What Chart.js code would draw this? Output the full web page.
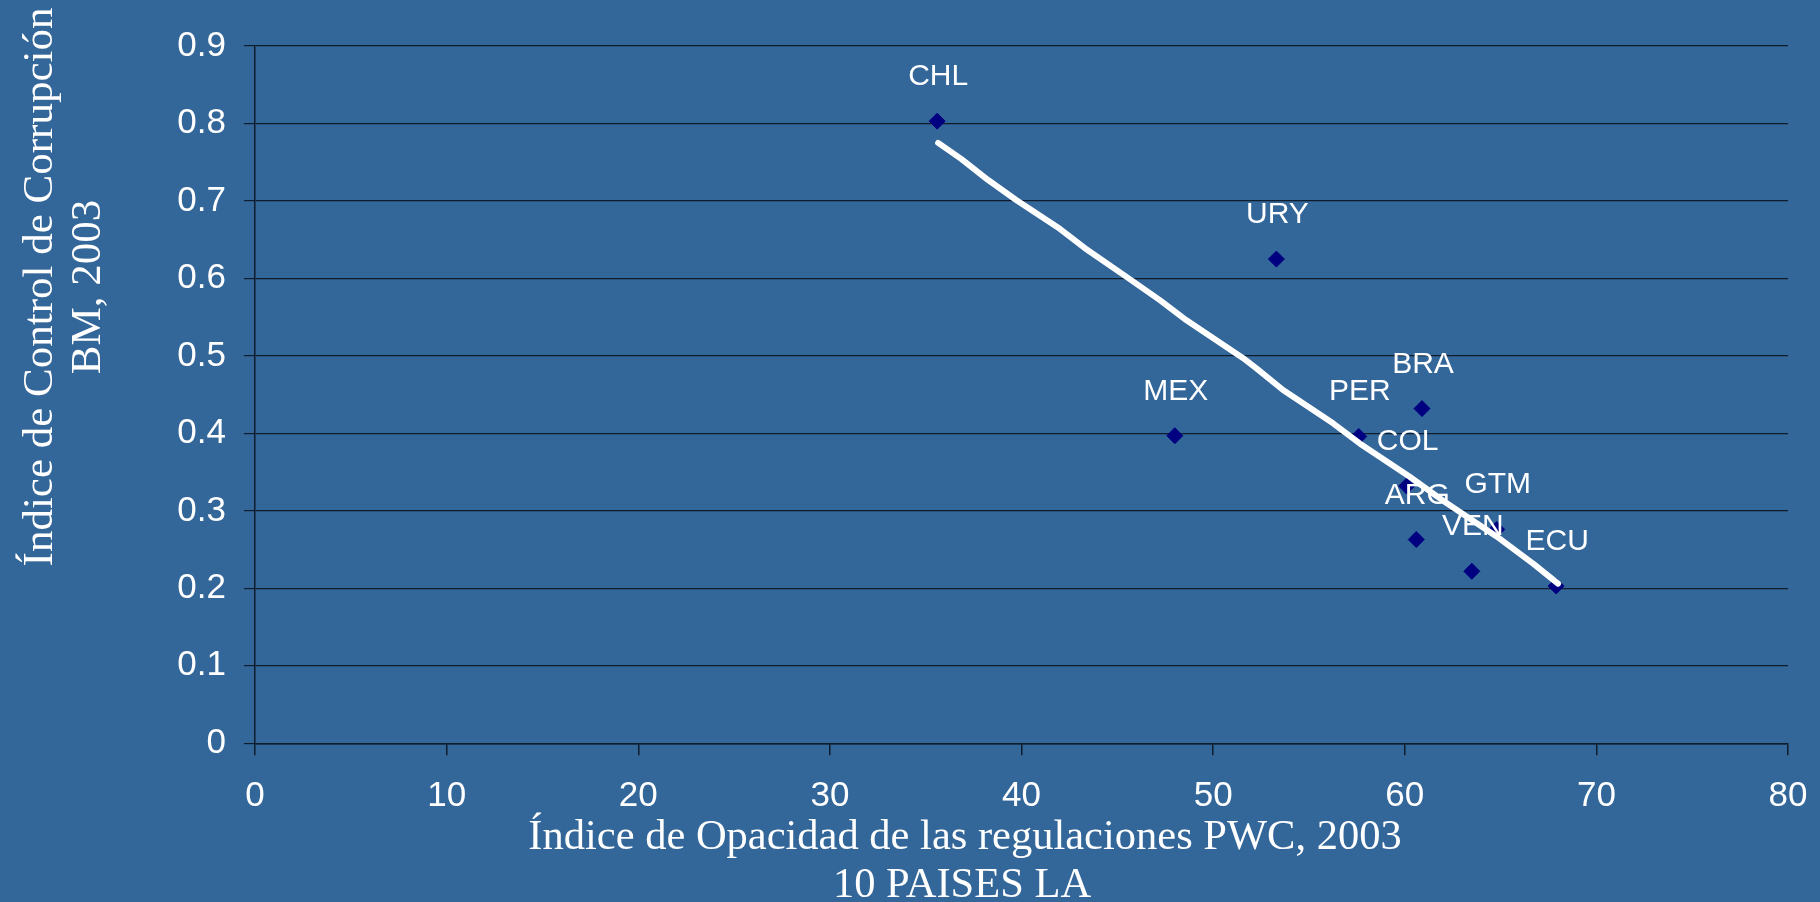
<!DOCTYPE html>
<html lang="es">
<head>
<meta charset="utf-8">
<title>Opacidad vs Control de Corrupción</title>
<script src="https://cdn.jsdelivr.net/npm/chart.js@4.4.1/dist/chart.umd.min.js"></script>
<style>
    html, body { margin: 0; padding: 0; background: #336699; overflow: hidden; }
    #wrap { width: 1820px; height: 902px; position: relative; }
    #wrap canvas { display: block; }
</style>
</head>
<body>
<div id="wrap"><canvas id="chart-opacidad"></canvas></div>
<script>
// Países y valores de cada índice
const paises = ['CHL', 'URY', 'MEX', 'PER', 'BRA', 'COL', 'ARG', 'VEN', 'GTM', 'ECU'];
const opacidad = [35.6, 53.3, 48.0, 57.6, 60.9, 60.1, 60.6, 63.5, 64.8, 67.9];
const corrupcion = [0.803, 0.625, 0.397, 0.396, 0.432, 0.332, 0.263, 0.222, 0.276, 0.203];

// Línea de tendencia (trazo blanco)
const tendenciaX = [35.65, 36.87, 38.26, 39.74, 42.00, 43.31, 45.48, 47.22, 48.61, 51.57, 52.26, 53.65, 56.26, 57.65, 60.26, 62.18, 64.79, 66.70, 68.00];
const tendenciaY = [0.775, 0.754, 0.727, 0.701, 0.664, 0.639, 0.602, 0.572, 0.546, 0.497, 0.484, 0.456, 0.413, 0.387, 0.344, 0.310, 0.267, 0.232, 0.206];

const xTicks = [0, 10, 20, 30, 40, 50, 60, 70, 80];
const yTicks = [0, 0.1, 0.2, 0.3, 0.4, 0.5, 0.6, 0.7, 0.8, 0.9];

const tituloY = ['Índice de Control de Corrupción', 'BM, 2003'];
const tituloX = ['Índice de Opacidad de las regulaciones PWC, 2003', '10 PAISES LA'];

const LINEA = '#0f1c2b';

// Etiquetas de país sobre cada punto
const etiquetasPlugin = {
    id: 'etiquetas',
    afterDatasetsDraw(chart) {
        const ctx = chart.ctx;
        const meta = chart.getDatasetMeta(0);
        ctx.save();
        ctx.fillStyle = '#ffffff';
        ctx.font = '30px "Liberation Sans", Arial, sans-serif';
        ctx.textAlign = 'center';
        ctx.textBaseline = 'alphabetic';
        meta.data.forEach((pt, i) => {
            ctx.fillText(paises[i], pt.x + 1, pt.y - 36);
        });
        ctx.restore();
    },
};

// Títulos de los ejes en serif
const titulosPlugin = {
    id: 'titulos',
    afterDraw(chart) {
        const ctx = chart.ctx;
        ctx.save();
        ctx.fillStyle = '#ffffff';
        ctx.textAlign = 'center';
        ctx.textBaseline = 'alphabetic';

        ctx.save();
        ctx.font = '43px "Liberation Serif", "Times New Roman", serif';
        ctx.translate(52, 287);
        ctx.rotate(-Math.PI / 2);
        ctx.fillText(tituloY[0], 0, 0);
        ctx.fillText(tituloY[1], 0, 48);
        ctx.restore();

        ctx.font = '42.5px "Liberation Serif", "Times New Roman", serif';
        ctx.fillText(tituloX[0], 965, 849);
        ctx.fillText(tituloX[1], 962, 897);
        ctx.restore();
    },
};

const el = document.getElementById('chart-opacidad');
new Chart(el, {
    type: 'scatter',
    data: {
        datasets: [{
            label: 'Países',
            data: paises.map((p, i) => ({ x: opacidad[i], y: corrupcion[i] })),
            pointStyle: 'rectRot',
            pointRadius: 8,
            pointHoverRadius: 8,
            backgroundColor: '#000080',
            borderColor: '#000080',
            borderWidth: 1,
            order: 2,
        }, {
            label: 'Tendencia',
            type: 'line',
            data: tendenciaX.map((x, i) => ({ x, y: tendenciaY[i] })),
            borderColor: '#ffffff',
            borderWidth: 6,
            borderCapStyle: 'round',
            borderJoinStyle: 'round',
            pointRadius: 0,
            fill: false,
            tension: 0,
            order: 1,
        }],
    },
    options: {
        responsive: true,
        maintainAspectRatio: false,
        animation: false,
        events: [],
        layout: { padding: { top: 46, right: 32, left: 0, bottom: 0 } },
        plugins: {
            legend: { display: false },
            tooltip: { enabled: false },
        },
        scales: {
            x: {
                type: 'linear',
                min: 0,
                max: 80,
                afterBuildTicks: (s) => { s.ticks = xTicks.map(v => ({ value: v })); },
                afterFit: (s) => {
                    s.height = 158.7;
                    s.paddingLeft = 0;
                    s.paddingRight = 32;
                },
                grid: { drawOnChartArea: false, drawTicks: true, tickLength: 12, color: LINEA, lineWidth: 1.5 },
                border: { display: true, color: LINEA, width: 1.5 },
                ticks: {
                    color: '#ffffff',
                    padding: 20,
                    maxRotation: 0,
                    font: { family: '"Liberation Sans", Arial, sans-serif', size: 35 },
                },
            },
            y: {
                type: 'linear',
                min: 0,
                max: 0.9,
                afterBuildTicks: (s) => { s.ticks = yTicks.map(v => ({ value: v })); },
                afterFit: (s) => { s.width = 255; },
                grid: { drawOnChartArea: true, drawTicks: true, tickLength: 11, color: LINEA, lineWidth: 1.2 },
                border: { display: true, color: LINEA, width: 1.5 },
                ticks: {
                    color: '#ffffff',
                    padding: 18,
                    callback: (v) => String(+v.toFixed(1)),
                    font: { family: '"Liberation Sans", Arial, sans-serif', size: 35 },
                },
            },
        },
    },
    plugins: [etiquetasPlugin, titulosPlugin],
});
</script>
</body>
</html>
